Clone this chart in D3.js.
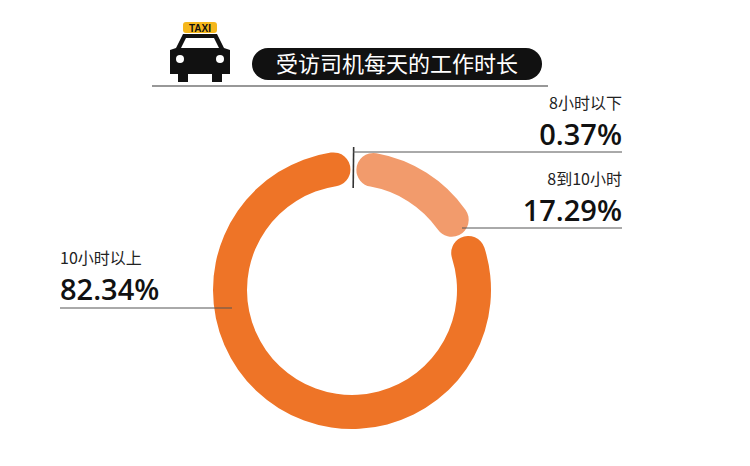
<!DOCTYPE html><html><head><meta charset="utf-8"><script src="https://cdn.jsdelivr.net/npm/d3@7"></script>
<style>body{margin:0;background:#fff}</style></head><body><svg id="c" width="750" height="466"></svg>
<script>
const categories=["8小时以下","8到10小时","10小时以上"];
const values=[0.37,17.29,82.34];
const labels=["0.37%","17.29%","82.34%"];
const colors=["#333","#F29B6C","#EE7427"];
const svg=d3.select("#c"),F="'Noto Sans CJK SC',sans-serif";
const cx=352,cy=290,ro=139,ri=105;
svg.append("line").attr("x1",152).attr("x2",548).attr("y1",86).attr("y2",86).attr("stroke","#333").attr("stroke-width",1.2);
svg.append("rect").attr("x",252).attr("y",48).attr("width",290).attr("height",32).attr("rx",16).attr("fill","#111");
svg.append("text").attr("x",397).attr("y",72).attr("text-anchor","middle").attr("fill","#fff").attr("font-family",F).attr("font-size",22).text("受访司机每天的工作时长");
const t=svg.append("g");
t.append("rect").attr("x",183).attr("y",22).attr("width",34).attr("height",11).attr("rx",3).attr("fill","#F5B71C");
t.append("text").attr("x",200).attr("y",31.5).attr("text-anchor","middle").attr("font-family","Liberation Sans,Arial").attr("font-weight","bold").attr("font-size",10).attr("fill","#111").text("TAXI");
t.append("path").attr("d","M176,48 L183,34 L217,34 L224,48 L230,50 L230,74 L222,74 L222,82 L212,82 L212,74 L188,74 L188,82 L178,82 L178,74 L170,74 L170,50 Z").attr("fill","#111");
t.append("path").attr("d","M181,48 L186,38 L214,38 L219,48 Z").attr("fill","#fff");
t.append("circle").attr("cx",180).attr("cy",59).attr("r",4).attr("fill","#fff");
t.append("circle").attr("cx",220).attr("cy",59).attr("r",4).attr("fill","#fff");
const pie=d3.pie().sort(null).value(d=>d)(values);
const arc=d3.arc().innerRadius(ri).outerRadius(ro).cornerRadius(17).padAngle(0.018);
const g=svg.append("g").attr("transform",`translate(${cx},${cy})`);
pie.forEach((p,i)=>{
 if(i===0){const a=(p.startAngle+p.endAngle)/2;
  g.append("line").attr("x1",Math.sin(a)*(ro+4)).attr("x2",Math.sin(a)*(ri-3)).attr("y1",-Math.cos(a)*(ro+4)).attr("y2",-Math.cos(a)*(ri-3)).attr("stroke","#333").attr("stroke-width",1.6);}
 else g.append("path").attr("d",arc(p)).attr("fill",colors[i]);
});
const ln=(x1,x2,y)=>svg.append("line").attr("x1",x1).attr("x2",x2).attr("y1",y).attr("y2",y).attr("stroke","#555").attr("stroke-width",1);
ln(353,622,152);ln(462,622,228);ln(60,232,308);
const lab=(x,y,i,anchor)=>{
 svg.append("text").attr("x",x).attr("y",y-3).attr("text-anchor",anchor).attr("font-family",F).attr("font-size",16).attr("fill","#222").text(categories[i]);
 svg.append("text").attr("x",x).attr("y",y+33).attr("text-anchor",anchor).attr("font-family","'Open Sans',sans-serif").attr("font-weight",600).attr("font-size",29).attr("fill","#111").text(labels[i]);
};
lab(622,112,0,"end");lab(622,188,1,"end");lab(60,267,2,"start");
</script></body></html>
